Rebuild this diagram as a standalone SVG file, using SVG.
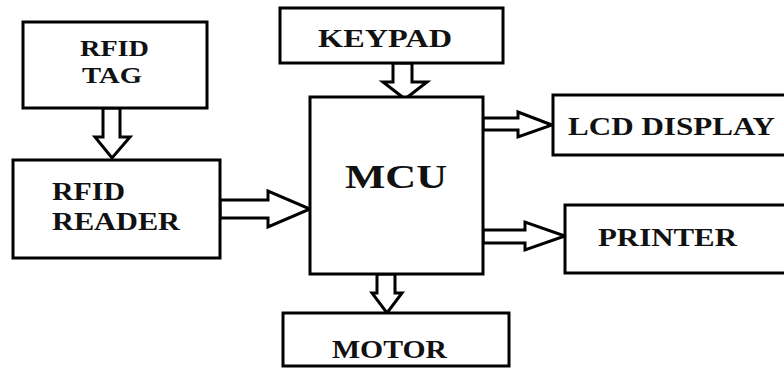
<svg xmlns="http://www.w3.org/2000/svg" width="784" height="370" viewBox="0 0 784 370">
<defs>
<style>
.box{fill:#fff;stroke:#000;stroke-width:3}
.arr{fill:#fff;stroke:#000;stroke-width:3;stroke-linejoin:miter}
.t{font-family:"Liberation Serif","Times New Roman",serif;font-weight:bold;font-size:26px;fill:#111}
.s{font-size:24px}
.big{font-size:33px}
</style>
</defs>
<rect width="784" height="370" fill="#fff"/>
<g id="connectors">
<polygon class="arr" points="103,108 120,108 120,137 130,137 112,158 95,137 103,137"/>
<polygon class="arr" points="220,200 268,200 268,191 310,209 268,227 268,218 220,218"/>
<polygon class="arr" points="393,63 412,63 412,82 427,82 405,99 383,82 393,82"/>
<polygon class="arr" points="377,274 395,274 395,293 402,293 387,313 372,293 377,293"/>
<polygon class="arr" points="483,118 518,118 518,112 552,125 518,137 518,130 483,130"/>
<polygon class="arr" points="483,230 525,230 525,222 565,236 525,250 525,243 483,243"/>
</g>
<g id="rfid-tag">
<rect class="box" x="23" y="22" width="184" height="86"/>
<text class="t s" x="80" y="56" textLength="69" lengthAdjust="spacingAndGlyphs">RFID</text>
<text class="t s" x="82" y="83" textLength="60" lengthAdjust="spacingAndGlyphs">TAG</text>
</g>
<g id="rfid-reader">
<rect class="box" x="13" y="160" width="207" height="98"/>
<text class="t" x="52" y="200" textLength="73" lengthAdjust="spacingAndGlyphs">RFID</text>
<text class="t" x="52" y="230" textLength="128" lengthAdjust="spacingAndGlyphs">READER</text>
</g>
<g id="keypad">
<rect class="box" x="280" y="8" width="223" height="55"/>
<text class="t" x="318" y="47" textLength="134" lengthAdjust="spacingAndGlyphs">KEYPAD</text>
</g>
<g id="mcu">
<rect class="box" x="310" y="97" width="173" height="177"/>
<text class="t big" x="345" y="188" textLength="102" lengthAdjust="spacingAndGlyphs">MCU</text>
</g>
<g id="lcd-display">
<rect class="box" x="553" y="95" width="240" height="60"/>
<text class="t" x="568" y="135" textLength="207" lengthAdjust="spacingAndGlyphs">LCD DISPLAY</text>
</g>
<g id="printer">
<rect class="box" x="565" y="205" width="228" height="68"/>
<text class="t" x="598" y="246" textLength="139" lengthAdjust="spacingAndGlyphs">PRINTER</text>
</g>
<g id="motor">
<rect class="box" x="283" y="313" width="226" height="53"/>
<text class="t" x="332" y="358" textLength="115" lengthAdjust="spacingAndGlyphs">MOTOR</text>
</g>
</svg>
